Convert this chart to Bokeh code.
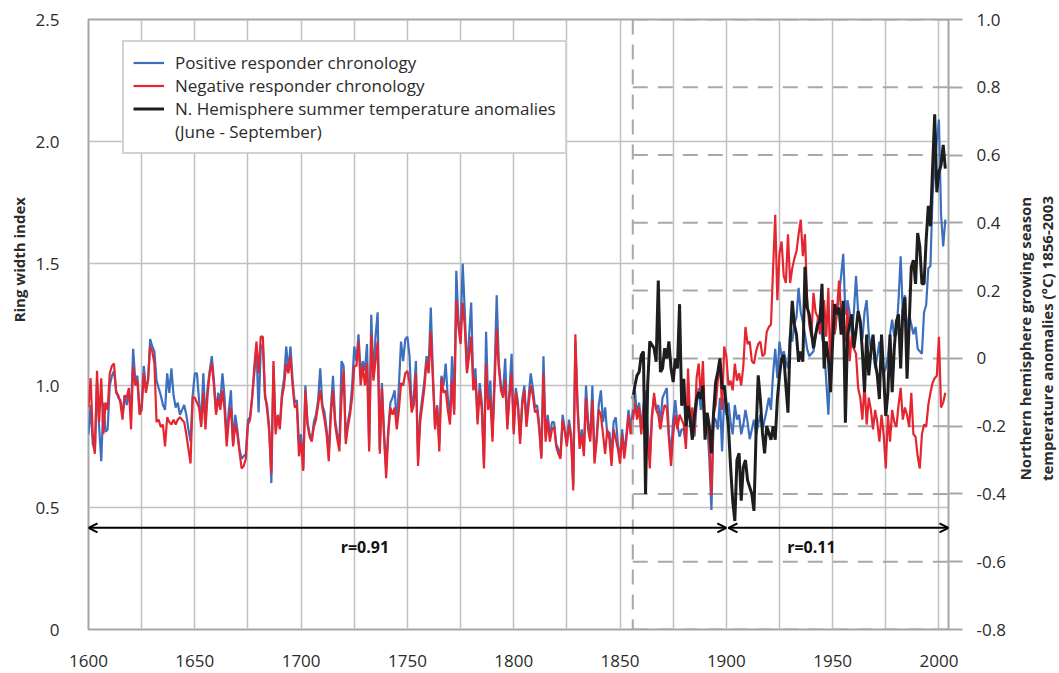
import math

from bokeh.plotting import figure
from bokeh.layouts import row
from bokeh.core.properties import value
from bokeh.models import (LinearAxis, Range1d, FixedTicker, Span, Arrow, OpenHead,
                          Label, Legend, LegendItem)
from bokeh.embed import file_html
from bokeh.resources import INLINE

FONT = "Open Sans"

# ---- data -----------------------------------------------------------------
ring_start = 1600
positive = [
    0.80, 0.92, 0.76, 0.73, 1.02, 0.83, 0.69, 0.93, 0.81, 0.82,
    1.00, 1.04, 1.06, 0.98, 0.95, 0.94, 0.88, 0.96, 0.92, 0.97,
    0.90, 1.15, 1.02, 1.04, 0.90, 0.92, 1.08, 0.99, 1.02, 1.19,
    1.16, 1.14, 1.02, 0.99, 0.96, 0.92, 0.90, 1.05, 0.97, 1.07,
    0.96, 0.91, 0.93, 0.88, 0.90, 0.92, 0.88, 0.82, 0.77, 0.96,
    1.05, 1.05, 0.94, 0.84, 1.05, 0.85, 0.99, 1.06, 1.12, 1.02,
    0.89, 0.97, 0.93, 1.05, 0.95, 0.78, 0.90, 0.98, 0.76, 0.88,
    0.82, 0.74, 0.70, 0.71, 0.72, 0.86, 0.87, 0.96, 1.05, 1.16,
    0.89, 1.15, 1.17, 0.95, 0.92, 0.83, 0.60, 1.08, 0.82, 0.86,
    0.84, 0.97, 1.03, 1.16, 1.06, 1.16, 1.02, 0.93, 0.94, 0.76,
    0.80, 0.66, 1.00, 0.85, 0.80, 0.78, 0.85, 0.88, 0.94, 1.07,
    0.92, 0.89, 0.82, 0.72, 0.91, 1.04, 0.86, 0.80, 0.76, 1.10,
    1.08, 0.78, 0.85, 0.90, 1.00, 1.16, 1.10, 1.21, 1.05, 1.10,
    1.06, 1.17, 0.75, 1.29, 1.03, 1.20, 1.30, 0.74, 1.01, 0.81,
    0.66, 0.82, 0.93, 0.95, 0.98, 0.84, 1.00, 1.18, 1.10, 1.19,
    1.20, 1.12, 0.91, 0.96, 1.10, 0.70, 0.88, 0.95, 1.02, 1.12,
    1.08, 1.32, 1.05, 0.83, 0.92, 0.76, 1.04, 1.00, 1.09, 0.95,
    0.86, 1.12, 0.90, 1.47, 1.26, 1.22, 1.50, 1.30, 1.06, 1.20,
    1.34, 1.00, 1.07, 0.86, 1.01, 0.93, 0.68, 1.22, 0.92, 1.02,
    0.79, 1.05, 1.37, 1.09, 1.00, 0.97, 1.11, 0.84, 0.98, 1.13,
    0.82, 0.99, 0.93, 0.78, 0.94, 1.00, 0.85, 0.95, 1.05, 0.99,
    0.91, 0.92, 0.84, 0.71, 1.12, 0.79, 0.88, 0.79, 0.85, 0.85,
    0.76, 0.74, 0.71, 0.88, 0.82, 0.77, 0.86, 0.80, 0.59, 1.18,
    0.93, 0.76, 0.82, 0.73, 1.00, 0.85, 0.79, 1.00, 0.70, 0.79,
    0.92, 0.98, 0.85, 0.91, 0.80, 0.81, 0.72, 0.85, 0.87, 0.76,
    0.70, 0.82, 0.72, 0.80, 0.90, 0.82, 0.90, 0.98, 0.88, 0.93,
    0.82, 0.92, 0.98, 0.83, 0.70, 0.88, 0.95, 0.90, 0.92, 0.85,
    0.95, 0.97, 0.99, 0.80, 0.72, 0.86, 0.94, 0.84, 0.79, 0.82,
    0.82, 0.76, 0.95, 0.83, 0.88, 0.79, 0.92, 0.99, 0.90, 0.96,
    0.82, 0.85, 0.70, 0.49, 0.87, 0.86, 0.82, 0.95, 0.73, 0.95,
    0.88, 0.93, 0.85, 0.80, 0.92, 0.86, 0.88, 0.80, 0.84, 0.90,
    0.85, 0.78, 0.82, 0.86, 0.80, 0.84, 0.88, 0.82, 0.86, 0.90,
    0.95, 0.90, 1.05, 1.15, 1.03, 1.18, 1.12, 1.14, 1.10, 1.07,
    1.21, 1.18, 1.25, 1.28, 1.40, 1.30, 1.26, 1.21, 1.15, 1.12,
    1.13, 1.14, 1.21, 1.27, 1.29, 1.20, 1.15, 1.02, 0.88, 1.10,
    1.35, 1.21, 1.30, 1.37, 1.45, 1.54, 1.29, 1.35, 1.30, 1.21,
    1.30, 1.45, 1.30, 1.25, 1.19, 1.30, 1.35, 1.21, 1.15, 1.16,
    1.07, 1.12, 1.18, 1.10, 1.05, 1.07, 1.12, 1.21, 1.27, 1.20,
    1.21, 1.35, 1.53, 1.30, 1.37, 1.21, 1.29, 1.25, 1.21, 1.24,
    1.15, 1.14, 1.13, 1.30, 1.33, 1.48, 1.49, 1.78, 1.90, 2.00,
    2.09, 1.70, 1.57, 1.68,
]
negative = [
    0.91, 1.03, 0.80, 0.72, 1.06, 0.85, 1.03, 0.80, 0.93, 0.90,
    1.05, 1.08, 1.09, 0.97, 0.96, 0.93, 0.86, 0.96, 0.95, 0.99,
    0.82, 1.08, 1.00, 1.02, 0.88, 0.90, 1.05, 0.97, 1.02, 1.16,
    1.14, 1.09, 0.85, 0.86, 0.83, 0.84, 0.75, 0.87, 0.85, 0.84,
    0.86, 0.84, 0.86, 0.87, 0.86, 0.85, 0.80, 0.74, 0.68, 0.95,
    0.95, 0.93, 0.91, 0.83, 0.97, 0.82, 0.96, 1.05, 1.09, 1.00,
    0.88, 0.95, 0.90, 0.98, 0.90, 0.75, 0.86, 0.91, 0.75, 0.84,
    0.80, 0.73, 0.66, 0.67, 0.70, 0.84, 0.86, 0.95, 1.08, 1.18,
    1.05, 1.20, 1.20, 0.97, 0.90, 0.81, 0.64, 1.10, 0.80, 0.88,
    0.82, 0.95, 1.00, 1.09, 1.05, 1.12, 1.00, 0.91, 0.92, 0.71,
    0.77, 0.65, 0.98, 0.84, 0.79, 0.77, 0.83, 0.86, 0.92, 0.98,
    0.91, 0.86, 0.80, 0.69, 0.88, 0.98, 0.84, 0.78, 0.73, 0.95,
    1.06, 0.76, 0.83, 0.88, 0.95, 1.08, 1.08, 1.18, 1.00, 1.08,
    1.00, 1.09, 0.73, 1.21, 1.02, 1.10, 1.18, 0.72, 0.99, 0.79,
    0.62, 0.80, 0.91, 0.88, 0.91, 0.82, 0.90, 1.01, 1.00, 1.05,
    1.06, 1.01, 0.89, 0.92, 1.05, 0.67, 0.85, 0.92, 0.99, 1.10,
    1.05, 1.22, 1.02, 0.82, 0.91, 0.73, 1.03, 0.97, 0.98, 0.90,
    0.84, 1.02, 0.88, 1.35, 1.24, 1.17, 1.34, 1.24, 1.05, 1.12,
    1.20, 0.98, 1.03, 0.84, 0.98, 0.90, 0.66, 1.09, 0.90, 0.95,
    0.77, 1.00, 1.23, 1.07, 0.98, 0.95, 1.02, 0.82, 0.95, 1.05,
    0.80, 0.97, 0.91, 0.76, 0.92, 0.98, 0.83, 0.92, 1.00, 0.96,
    0.89, 0.90, 0.82, 0.70, 1.05, 0.77, 0.86, 0.77, 0.82, 0.83,
    0.75, 0.72, 0.70, 0.86, 0.81, 0.75, 0.84, 0.78, 0.57, 1.21,
    0.91, 0.74, 0.80, 0.71, 0.95, 0.82, 0.77, 0.94, 0.68, 0.77,
    0.90, 0.88, 0.80, 0.72, 0.82, 0.78, 0.67, 0.82, 0.78, 0.74,
    0.68, 0.80, 0.70, 0.78, 0.88, 0.80, 0.85, 0.93, 0.86, 0.91,
    0.80, 0.90, 0.95, 0.80, 0.66, 0.86, 0.97, 0.90, 0.88, 0.82,
    0.88, 0.92, 0.91, 0.78, 0.67, 0.80, 0.88, 0.82, 0.88, 0.86,
    0.84, 0.74, 1.07, 0.85, 0.91, 0.80, 1.03, 1.09, 0.95, 1.10,
    0.84, 0.88, 0.76, 0.55, 0.88, 0.92, 1.02, 1.10, 0.90, 1.16,
    1.12, 1.00, 1.02, 0.98, 1.09, 1.02, 1.05, 1.00, 1.08, 1.24,
    1.17, 1.18, 1.10, 1.09, 1.14, 1.17, 1.18, 1.12, 1.13, 1.22,
    1.24, 1.25, 1.48, 1.70, 1.35, 1.54, 1.59, 1.45, 1.42, 1.62,
    1.42, 1.48, 1.52, 1.55, 1.62, 1.68, 1.53, 1.62, 1.35, 1.25,
    1.20, 1.38, 1.30, 1.28, 1.21, 1.30, 1.35, 1.20, 1.40, 1.00,
    1.35, 1.21, 1.30, 1.43, 1.30, 1.28, 1.18, 1.32, 1.10, 1.21,
    1.15, 1.13, 0.99, 0.95, 0.86, 1.01, 0.84, 0.95, 0.90, 0.82,
    0.90, 0.85, 0.77, 0.88, 0.80, 0.66, 0.88, 0.77, 0.90, 0.85,
    0.83, 0.92, 0.99, 0.86, 0.91, 0.88, 0.83, 0.97, 0.80, 0.79,
    0.71, 0.66, 0.80, 0.84, 0.83, 0.92, 0.97, 1.01, 1.03, 1.04,
    1.20, 0.91, 0.93, 0.97,
]
ring_years = list(range(ring_start, ring_start + len(positive)))

temp_start = 1856
temperature = [
    -0.12, -0.08, -0.05, -0.04, 0.01, 0.02, -0.40, -0.08, 0.05, 0.04,
    0.03, -0.01, 0.23, -0.04, -0.03, 0.03, 0.00, 0.05, -0.03, -0.07,
    0.00, -0.03, 0.16, -0.14, -0.06, -0.20, -0.14, -0.18, -0.24, -0.17,
    -0.12, -0.10, -0.12, -0.08, -0.24, -0.16, -0.20, -0.28, -0.16, -0.07,
    -0.04, 0.00, -0.09, -0.08, -0.14, -0.20, -0.32, -0.42, -0.48, -0.30,
    -0.28, -0.42, -0.32, -0.30, -0.36, -0.38, -0.40, -0.45, -0.22, -0.05,
    -0.12, -0.22, -0.28, -0.20, -0.22, -0.24, -0.20, -0.24, -0.12, -0.05,
    0.00, 0.01, -0.08, -0.16, 0.05, 0.17, 0.10, 0.07, -0.01, 0.02,
    -0.01, 0.27, 0.15, 0.13, 0.08, 0.03, 0.07, 0.10, 0.11, 0.22,
    -0.03, 0.05, 0.00, -0.10, 0.05, 0.16, 0.13, 0.15, 0.07, 0.17,
    -0.19, 0.07, 0.10, 0.13, 0.03, 0.08, 0.14, 0.11, 0.02, -0.10,
    0.07, -0.05, 0.02, 0.07, -0.01, -0.05, -0.12, 0.07, -0.05, -0.17,
    -0.10, 0.07, -0.10, 0.03, 0.11, 0.13, -0.03, 0.14, 0.18, -0.06,
    0.10, 0.27, 0.29, 0.22, 0.37, 0.33, 0.22, 0.22, 0.35, 0.45,
    0.39, 0.56, 0.72, 0.49, 0.55, 0.57, 0.63, 0.56,
]
temp_years = list(range(temp_start, temp_start + len(temperature)))

x_ticks = [1600, 1650, 1700, 1750, 1800, 1850, 1900, 1950, 2000]
x_grid = [1600, 1625, 1650, 1675, 1700, 1725, 1750, 1775, 1800, 1825,
          1850, 1875, 1900, 1925, 1950, 1975, 2000]
ring_ticks = [0, 0.5, 1.0, 1.5, 2.0, 2.5]
ring_labels = ["0", "0.5", "1.0", "1.5", "2.0", "2.5"]
temp_ticks = [-0.8, -0.6, -0.4, -0.2, 0, 0.2, 0.4, 0.6, 0.8, 1.0]
temp_labels = ["-0.8", "-0.6", "-0.4", "-0.2", "0", "0.2", "0.4", "0.6", "0.8", "1.0"]

left_title = "Ring width index"
right_title = ["Northern hemisphere growing season",
               "temperature anomalies (\u00b0C) 1856-2003"]

# correlation periods (year spans), r values and label positions
periods = [(1600, 1900, "r=0.91", 1730), (1901, 2004.5, "r=0.11", 1940)]

BLUE = "#3D6FBF"
RED = "#E52630"
BLACK = "#1E1E1E"
GRID = "#C0C0C0"
DASH = "#A8A8A8"
TEXT = "#2B2B2B"

H = 673
W_LEFT, W_MAIN, W_RIGHT = 30, 982, 47


def title_strip(width, xs, ys, texts):
    """Narrow blank panel that carries rotated axis-title text."""
    f = figure(width=width, height=H, output_backend="svg", toolbar_location=None,
               x_range=Range1d(0, width), y_range=Range1d(0, H), min_border=0,
               background_fill_color="white", border_fill_color="white")
    f.axis.visible = False
    f.grid.visible = False
    f.outline_line_color = None
    f.text(x=xs, y=ys, text=texts, angle=math.pi / 2, text_align="center",
           text_baseline="middle", text_font=value(FONT), text_font_style="bold",
           text_font_size="15px", text_color=TEXT)
    return f


# ---- main figure ----------------------------------------------------------
p = figure(width=W_MAIN, height=H, output_backend="svg", toolbar_location=None,
           x_range=Range1d(1600, 2004.5), y_range=Range1d(0, 2.5),
           min_border_left=58, min_border_right=64, min_border_top=19,
           min_border_bottom=44, background_fill_color="white",
           border_fill_color="white")
p.extra_y_ranges = {"temp": Range1d(-0.8, 1.0)}

p.outline_line_color = "#A6A6A6"
p.outline_line_width = 2

p.xgrid.ticker = FixedTicker(ticks=x_grid)
p.ygrid.ticker = FixedTicker(ticks=ring_ticks)
for g in (p.xgrid, p.ygrid):
    g.grid_line_color = GRID
    g.grid_line_width = 1.5

# bottom axis
xa = p.xaxis[0]
xa.ticker = FixedTicker(ticks=x_ticks)
xa.axis_line_color = None
xa.major_tick_line_color = None
xa.minor_tick_line_color = None
xa.major_label_standoff = 19
xa.major_label_text_font = FONT
xa.major_label_text_font_size = "17px"
xa.major_label_text_color = TEXT

# left axis
ya = p.yaxis[0]
ya.ticker = FixedTicker(ticks=ring_ticks)
ya.major_label_overrides = {t: s for t, s in zip(ring_ticks, ring_labels)}
ya.axis_line_color = None
ya.major_tick_line_color = None
ya.minor_tick_line_color = None
ya.major_label_standoff = 23
ya.major_label_text_font = FONT
ya.major_label_text_font_size = "17px"
ya.major_label_text_color = TEXT

# right axis
ra = LinearAxis(y_range_name="temp", ticker=FixedTicker(ticks=temp_ticks))
ra.major_label_overrides = {t: s for t, s in zip(temp_ticks, temp_labels)}
ra.axis_line_color = None
ra.major_tick_in = 0
ra.major_tick_out = 14
ra.major_tick_line_color = DASH
ra.major_tick_line_width = 2
ra.minor_tick_line_color = None
ra.major_label_standoff = 14
ra.major_label_text_font = FONT
ra.major_label_text_font_size = "17px"
ra.major_label_text_color = TEXT
p.add_layout(ra, "right")

# dashed reference grid for the temperature scale, from the first instrumental year
p.segment(x0=[temp_start] * len(temp_ticks), x1=[2010] * len(temp_ticks),
          y0=temp_ticks, y1=temp_ticks, y_range_name="temp",
          line_color=DASH, line_width=2, line_dash="15 10")
p.add_layout(Span(location=temp_start, dimension="height", line_color=DASH,
                  line_width=2, line_dash="15 10"))

# series
r_pos = p.line(ring_years, positive, line_color=BLUE, line_width=2.2)
r_neg = p.line(ring_years, negative, line_color=RED, line_width=2.2)
r_tmp = p.line(temp_years, temperature, line_color=BLACK, line_width=3,
               y_range_name="temp")
r_blank = p.line([], [], line_alpha=0)

# correlation arrows and labels
for x0, x1, txt, xt in periods:
    p.add_layout(Arrow(x_start=x0, x_end=x1, y_start=-0.5, y_end=-0.5,
                       y_range_name="temp", line_color="black", line_width=2,
                       start=OpenHead(size=9, line_color="black", line_width=2),
                       end=OpenHead(size=9, line_color="black", line_width=2)))
    p.add_layout(Label(x=xt, y=-0.558, y_range_name="temp", text=txt,
                       text_align="center", text_baseline="middle",
                       text_font=FONT, text_font_style="bold",
                       text_font_size="16px", text_color="#111111"))

legend = Legend(items=[
    LegendItem(label="Positive responder chronology", renderers=[r_pos]),
    LegendItem(label="Negative responder chronology", renderers=[r_neg]),
    LegendItem(label="N. Hemisphere summer temperature anomalies", renderers=[r_tmp]),
    LegendItem(label="(June - September)", renderers=[r_blank]),
], location=(34, 475))
legend.margin = 0
legend.padding = 9
legend.spacing = 0
legend.label_height = 23
legend.glyph_height = 23
legend.glyph_width = 31
legend.label_standoff = 11
legend.label_text_font = FONT
legend.label_text_font_size = "17px"
legend.label_text_color = TEXT
legend.border_line_color = "#A6A6A6"
legend.border_line_width = 2
legend.background_fill_color = "white"
legend.background_fill_alpha = 1
p.add_layout(legend)

# axis titles in side strips
left_strip = title_strip(W_LEFT, [18], [H - 265], [left_title])
right_strip = title_strip(W_RIGHT, [12, 34], [H - 352, H - 352], right_title)

layout = row(left_strip, p, right_strip, spacing=0)

open("out.html", "w").write(file_html(layout, INLINE))
